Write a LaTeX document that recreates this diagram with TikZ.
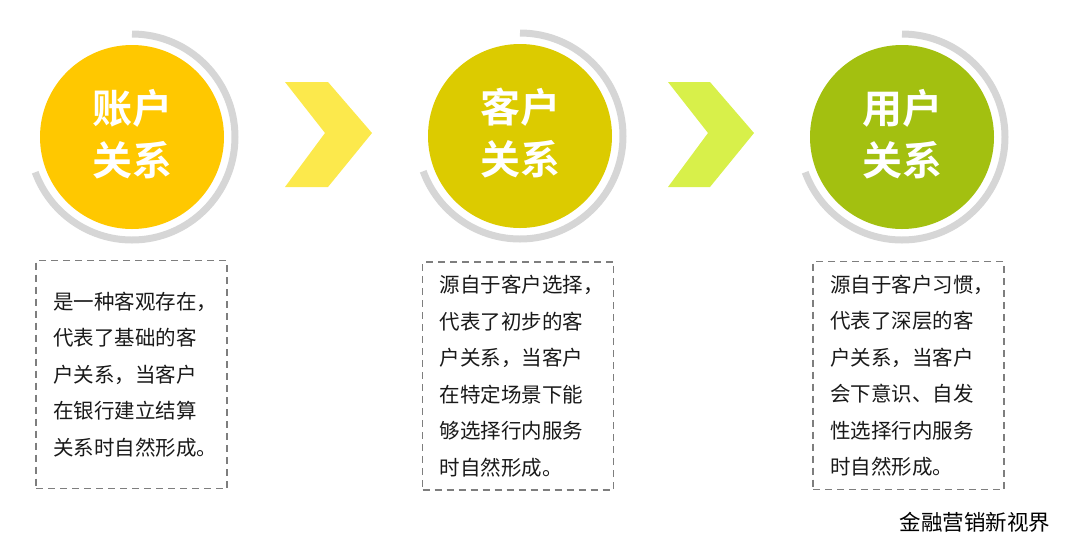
\documentclass[tikz,border=0pt]{standalone}
\usepackage{fontspec}
\setmainfont{Noto Sans CJK SC}[BoldFont={Noto Sans CJK SC Bold}]
\usepackage{tikz}
\usetikzlibrary{calc}

\definecolor{ringgray}{HTML}{D6D6D6}
\definecolor{boxgray}{HTML}{7E7E7E}
\definecolor{gold}{HTML}{FFC800}
\definecolor{olive}{HTML}{DCCB00}
\definecolor{leaf}{HTML}{A3C010}
\definecolor{chevA}{HTML}{FCE94C}
\definecolor{chevB}{HTML}{D8F04A}

\tikzset{
    ring/.style={ringgray, line width=7pt},
    title/.style={text=white, font=\bfseries\fontsize{40}{52}\selectfont, align=center},
    descbox/.style={draw=boxgray, line width=1.5pt, dash pattern=on 7pt off 5pt,
        text width=157pt, inner xsep=17pt, minimum height=228pt, align=left,
        font=\fontsize{20.5}{36.5}\selectfont, text=black!90}
}

\begin{document}
\begin{tikzpicture}[x=1pt, y=1pt]
        \useasboundingbox (0, 0) rectangle (1080, -550);
        \coordinate (C1) at (132, -137);
        \coordinate (C2) at (520, -136);
        \coordinate (C3) at (902, -137);
        % circles with grey rings
        \foreach \c/\col in {C1/gold, C2/olive, C3/leaf} {
            \fill[\col] (\c) circle[radius=92];
            \draw[ring] ($(\c)+(90:103)$) arc[start angle=90, end angle=-160, radius=103];
        }
        \node[title] (t1) at ($(C1)+(0,3)$) {账户\\关系};
        \node[title] (t2) at ($(C2)+(0,3)$) {客户\\关系};
        \node[title] (t3) at ($(C3)+(0,3)$) {用户\\关系};
        % chevrons
        \fill[chevA] (285, -82) -- (328, -82) -- (372, -133) -- (328, -187) -- (285, -187) -- (325, -133) -- cycle;
        \fill[chevB] (668, -82) -- (710, -82) -- (754, -133) -- (710, -187) -- (668, -187) -- (708, -133) -- cycle;
        % text boxes
        \node[descbox] (b1) at (131.5, -374.5) {是一种客观存在，\\代表了基础的客\\户关系，当客户\\在银行建立结算\\关系时自然形成。};
        \node[descbox] (b2) at (518, -376) {源自于客户选择，\\代表了初步的客\\户关系，当客户\\在特定场景下能\\够选择行内服务\\时自然形成。};
        \node[descbox] (b3) at (908.5, -375.5) {源自于客户习惯，\\代表了深层的客\\户关系，当客户\\会下意识、自发\\性选择行内服务\\时自然形成。};
        \node[font=\fontsize{21.5}{26}\selectfont] (src) at (975, -522) {金融营销新视界};
    \end{tikzpicture}
\end{document}
